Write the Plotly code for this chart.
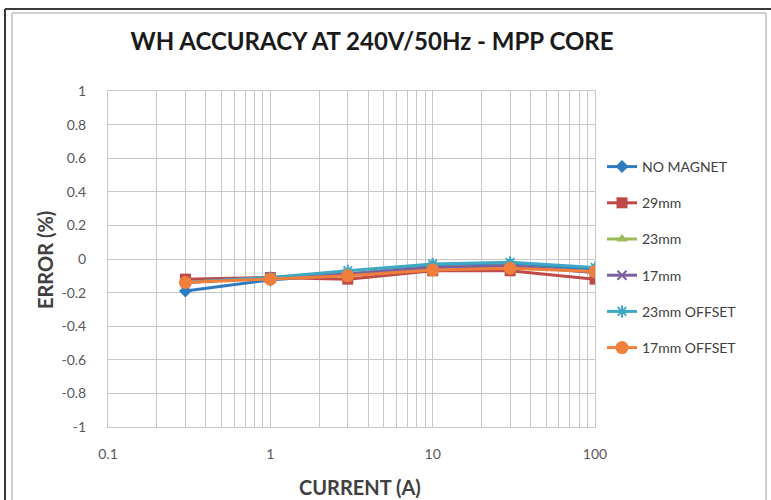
import plotly.graph_objects as go

current = [0.3, 1, 3, 10, 30, 100]
series_names = ["NO MAGNET", "29mm", "23mm", "17mm", "23mm OFFSET", "17mm OFFSET"]
no_magnet = [-0.19, -0.125, -0.09, -0.04, -0.03, -0.06]
mm29 = [-0.12, -0.11, -0.12, -0.07, -0.07, -0.12]
mm23 = [-0.14, -0.11, -0.09, -0.05, -0.04, -0.08]
mm17 = [-0.14, -0.11, -0.09, -0.05, -0.04, -0.08]
mm23_offset = [-0.14, -0.11, -0.07, -0.03, -0.02, -0.05]
mm17_offset = [-0.14, -0.12, -0.10, -0.065, -0.055, -0.075]

x_tickvals = [0.1, 0.2, 0.3, 0.4, 0.5, 0.6, 0.7, 0.8, 0.9,
              1, 2, 3, 4, 5, 6, 7, 8, 9,
              10, 20, 30, 40, 50, 60, 70, 80, 90, 100]
x_ticktext = ["0.1", "", "", "", "", "", "", "", "",
              "1", "", "", "", "", "", "", "", "",
              "10", "", "", "", "", "", "", "", "", "100"]
y_tickvals = [1, 0.8, 0.6, 0.4, 0.2, 0, -0.2, -0.4, -0.6, -0.8, -1]
y_ticktext = ["1", "0.8", "0.6", "0.4", "0.2", "0", "-0.2", "-0.4", "-0.6", "-0.8", "-1"]

all_series = [no_magnet, mm29, mm23, mm17, mm23_offset, mm17_offset]
colors = ["#2e7bbf", "#be4b48", "#9bbb59", "#7d60a0", "#3fa9c5", "#f07f3c"]
symbols = ["diamond", "square", "triangle-up", "x-thin-open", "asterisk-open", "circle"]
sizes = [10, 11, 10, 9, 10, 13]

W, H = 771, 500
L, R, T, B = 108, 595, 91, 427

def px(xp):
    return (xp - L) / (R - L)

def py(yp):
    return (B - yp) / (B - T)

fig = go.Figure()
for i, (name, vals) in enumerate(zip(series_names, all_series)):
    marker = dict(symbol=symbols[i], size=sizes[i], color=colors[i])
    if symbols[i].endswith("open"):
        marker["line"] = dict(color=colors[i], width=2)
    fig.add_trace(go.Scatter(
        x=current, y=vals, name=name, mode="lines+markers",
        line=dict(color=colors[i], width=3),
        marker=marker, legendgroup=name,
    ))

fig.update_layout(
    width=W, height=H,
    margin=dict(l=L, r=W - R, t=T, b=H - B, autoexpand=False),
    paper_bgcolor="white", plot_bgcolor="white",
    font=dict(family="Lato, Open Sans, sans-serif", color="#595959"),
    title=dict(text="<b>WH ACCURACY AT 240V/50Hz - MPP CORE</b>",
               font=dict(size=24, color="#1a1a1a"),
               xref="container", x=372 / W, xanchor="center",
               yref="container", y=1 - 42 / H, yanchor="middle"),
    showlegend=True,
    legend=dict(x=px(602), y=py(151), xanchor="left", yanchor="top",
                font=dict(size=14, color="#404040"),
                tracegroupgap=15, bgcolor="rgba(0,0,0,0)"),
    xaxis=dict(type="log", range=[-1, 2], tickvals=x_tickvals, ticktext=x_ticktext,
               showgrid=True, gridcolor="#c8c8c8", gridwidth=1,
               showline=True, linecolor="#c8c8c8", mirror=True,
               ticks="", ticklabelstandoff=14, tickfont=dict(size=14, color="#595959"),
               zeroline=False, automargin=False),
    yaxis=dict(range=[-1, 1], tickvals=y_tickvals, ticktext=y_ticktext,
               showgrid=True, gridcolor="#c8c8c8", gridwidth=1,
               showline=True, linecolor="#c8c8c8", mirror=True,
               ticks="", ticklabelstandoff=18, tickfont=dict(size=14, color="#595959"),
               zeroline=False, automargin=False),
)

# axis titles
fig.add_annotation(text="<b>CURRENT (A)</b>", xref="paper", yref="paper",
                   x=px(360), y=py(487), xanchor="center", yanchor="middle",
                   showarrow=False, font=dict(size=20, color="#404040"))
fig.add_annotation(text="<b>ERROR (%)</b>", xref="paper", yref="paper",
                   x=px(45), y=py(260), xanchor="center", yanchor="middle",
                   textangle=-90, showarrow=False, font=dict(size=20, color="#404040"))

# chart frame
fig.add_shape(type="line", xref="paper", yref="paper",
              x0=px(5), x1=px(771), y0=py(9), y1=py(9), line=dict(color="#3a3a3a", width=2))
fig.add_shape(type="line", xref="paper", yref="paper",
              x0=px(5), x1=px(5), y0=py(9), y1=py(500), line=dict(color="#3a3a3a", width=2))
fig.add_shape(type="line", xref="paper", yref="paper",
              x0=px(12), x1=px(766), y0=py(13), y1=py(13), line=dict(color="#cfcfcf", width=2))
fig.add_shape(type="line", xref="paper", yref="paper",
              x0=px(12), x1=px(12), y0=py(13), y1=py(500), line=dict(color="#cfcfcf", width=2))
fig.add_shape(type="line", xref="paper", yref="paper",
              x0=px(766), x1=px(766), y0=py(13), y1=py(500), line=dict(color="#cfcfcf", width=2))

fig.write_html("out.html")
